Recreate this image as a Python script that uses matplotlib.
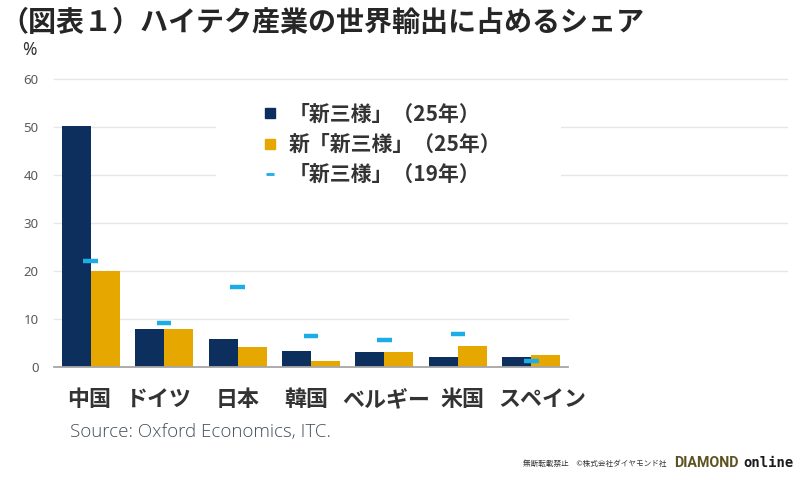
import matplotlib
matplotlib.use("Agg")
import matplotlib.pyplot as plt
from matplotlib.lines import Line2D
from matplotlib.patches import Rectangle
import numpy as np

plt.rcParams['font.family'] = ['Noto Sans CJK JP', 'DejaVu Sans']

# data
countries = ['中国', 'ドイツ', '日本', '韓国', 'ベルギー', '米国', 'スペイン']
share_new3_25 = [50.3, 7.8, 5.8, 3.3, 3.1, 2.0, 2.0]      # 「新三様」(25年)
share_newnew3_25 = [20.0, 7.8, 4.2, 1.1, 3.0, 4.3, 2.4]   # 新「新三様」(25年)
share_new3_19 = [22.1, 9.1, 16.6, 6.3, 5.6, 6.9, 1.1]     # 「新三様」(19年)
yticks = [0, 10, 20, 30, 40, 50, 60]
legend_labels = ['「新三様」（25年）', '新「新三様」（25年）', '「新三様」（19年）']

NAVY = '#0d2f5e'
GOLD = '#e6a800'
CYAN = '#1cade6'
W, H = 800, 478

fig = plt.figure(figsize=(W / 100, H / 100), dpi=100)
ax = fig.add_axes([54 / W, 1 - 366.7 / H, 514 / W, 287.7 / H])

x = np.arange(len(countries))
bw = 0.395
ax.bar(x - bw / 2, share_new3_25, bw, color=NAVY, zorder=3)
ax.bar(x + bw / 2, share_newnew3_25, bw, color=GOLD, zorder=3)
ax.hlines(share_new3_19, x - 0.1, x + 0.1, color=CYAN, lw=3.2, zorder=4)

ax.set_xlim(-0.5, len(countries) - 0.5)
ax.set_ylim(0, 60)
for s in ax.spines.values():
    s.set_visible(False)
ax.set_xticks([])
ax.set_yticks(yticks)
ax.set_yticklabels([str(t) for t in yticks], family=['Noto Sans', 'DejaVu Sans'],
                   fontsize=9.5, color='#5a5a5a')
ax.tick_params(axis='y', length=0, pad=11)

# gridlines: upper ones run out past the plot area, like the source image
ytr = ax.get_yaxis_transform()
for t in yticks[1:]:
    xe = (787 - 54) / 514 if t >= 20 else 1.0
    ax.plot([0, xe], [t, t], color='#e6e6e6', lw=1, transform=ytr,
            clip_on=False, zorder=1)
ax.plot([0, 1], [0, 0], color='#a6a6a6', lw=1.3, transform=ytr,
        clip_on=False, zorder=5)

# white panel behind the legend
ax.add_patch(Rectangle(((216 - 54) / 514, 0.52), (561 - 216) / 514, 0.42,
                       transform=ax.transAxes, facecolor='white',
                       edgecolor='none', zorder=2, clip_on=False))

handles = [
    Line2D([], [], ls='none', marker='s', ms=6.5, color=NAVY),
    Line2D([], [], ls='none', marker='s', ms=6.5, color=GOLD),
    Line2D([], [], ls='none', marker='_', ms=6, mew=2, color=CYAN),
]
leg = fig.legend(handles, legend_labels, loc='upper left',
                 bbox_to_anchor=(242 / W, 1 - 85 / H), frameon=False,
                 prop={'family': ['Noto Sans CJK JP', 'DejaVu Sans'],
                       'weight': 'bold', 'size': 15},
                 handlelength=0.9, handletextpad=0.45, labelspacing=0.44)
for t in leg.get_texts():
    t.set_color('#333333')

# title and axis unit
fig.text(0, 1 - 23 / H, '（図表１）ハイテク産業の世界輸出に占めるシェア',
         fontsize=20.2, weight='bold', color='#262626', va='center', ha='left')
fig.text(22 / W, 1 - 50 / H, '%', fontsize=12.5, weight='bold',
         color='#333333', va='center', family=['Noto Sans', 'DejaVu Sans'])

# category labels, placed where the source puts them
label_px = [89, 159, 238, 306, 386, 462, 542]
for name, px in zip(countries, label_px):
    fig.text(px / W, 1 - 400 / H, name, fontsize=15.8, weight='bold',
             color='#333333', ha='center', va='center')

fig.text(70 / W, 1 - 432 / H, 'Source: Oxford Economics, ITC.',
         fontsize=13.5, color='#46505a', va='center', ha='left',
         family=['Open Sans', 'DejaVu Sans'], weight='light')

# footer
fig.text(523 / W, 1 - 464 / H, '無断転載禁止　©株式会社ダイヤモンド社',
         fontsize=5.5, color='#333333', va='center', ha='left')
fig.text(674 / W, 1 - 463 / H, 'DIAMOND', fontsize=10.3, weight='bold',
         color='#5e5222', va='center', ha='left',
         family=['Roboto', 'DejaVu Sans'])
fig.text(794 / W, 1 - 463 / H, 'online', fontsize=10, weight='bold',
         color='#1a1a1a', va='center', ha='right',
         family=['DejaVu Sans Mono', 'DejaVu Sans'])

fig.savefig('out.png', dpi=100)
